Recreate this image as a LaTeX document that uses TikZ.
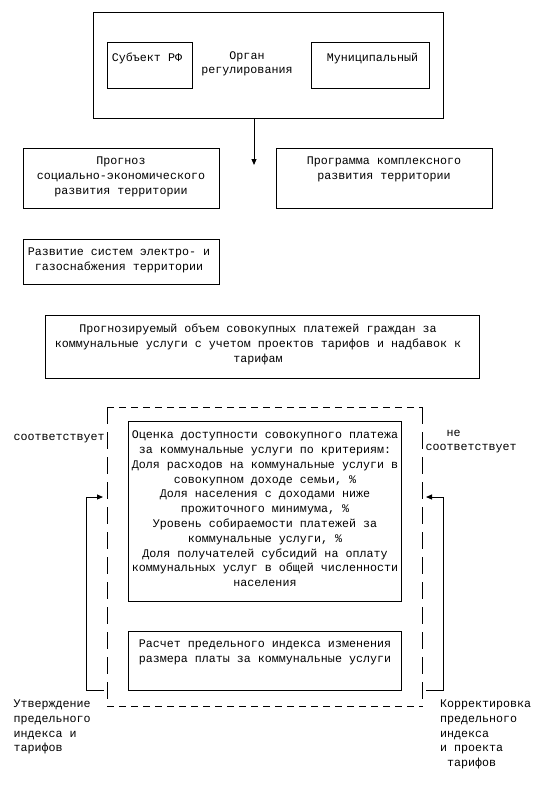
\documentclass[tikz,border=0pt]{standalone}
\usepackage{fontspec}
\newfontfamily\mono{Liberation Mono}
\usetikzlibrary{arrows.meta,fit}
\tikzset{
  box/.style={draw, line width=1pt, inner sep=0pt, fit={#1}},
  frame/.style={inner sep=0pt, fit={#1}},
  txt/.style={font=\mono\fontsize{11.67}{14.8}\selectfont, align=center, anchor=north, inner sep=0pt,
    execute at begin node=\rule{0pt}{10pt}},
  ltxt/.style={txt, align=left, anchor=north west},
  arr/.style={line width=1pt, -{Triangle[length=6pt,width=5pt]}},
  hdash/.style={line width=1pt, dash pattern=on 7pt off 5pt},
  vdash/.style={line width=1pt, dash pattern=on 17pt off 8pt},
}
\begin{document}
\begin{tikzpicture}[x=1pt,y=-1pt]
\fill[white] (0,0) rectangle (539,808);
\useasboundingbox (0,0) rectangle (539,808);

% top block
\node[box={(93,13) (443,118)}] (org) {};
\node[box={(107,43) (192,88)}] (subj) {};
\node[box={(311,43) (429,88)}] (muni) {};
\node[txt] (orgT) at (247,51) {Орган\\регулирования};
\node[txt] (subjT) at (147,51) {Субъект РФ};
\node[txt] (muniT) at (372.5,51) {Муниципальный};

\coordinate (tip) at (254,165);
\draw[arr] (org.south -| tip) -- (tip);

\node[box={(23,148) (219,208)}] (prog) {};
\node[txt] (progT) at (121,157) {Прогноз\\социально-экономического\\развития территории};
\node[box={(276,148) (492,208)}] (progr) {};
\node[txt] (progrT) at (384,157) {Программа комплексного\\развития территории};
\node[box={(23,239) (219,284)}] (razv) {};
\node[txt] (razvT) at (119,248) {Развитие систем электро- и\\газоснабжения территории};

\node[box={(45,315) (479,378)}] (fcst) {};
\node[txt] (fcstT) at (258,324) {Прогнозируемый объем совокупных платежей граждан за\\коммунальные услуги с учетом проектов тарифов и надбавок к\\тарифам};

% dashed frame
\node[frame={(107.5,407.5) (422.3,706)}] (dash) {};
\draw[hdash] (dash.north west) -- (dash.north east);
\draw[hdash] (dash.south west) -- (dash.south east);
\draw[vdash] (dash.north west) -- (dash.south west);
\draw[vdash] (dash.north east) -- (dash.south east);

\node[box={(128.3,421.5) (401.3,601.5)}] (ocen) {};
\node[txt] (ocenT) at (265,430.7) {Оценка доступности совокупного платежа\\за коммунальные услуги по критериям:\\Доля расходов на коммунальные услуги в\\совокупном доходе семьи, \%\\Доля населения с доходами ниже\\прожиточного минимума, \%\\Уровень собираемости платежей за\\коммунальные услуги, \%\\Доля получателей субсидий на оплату\\коммунальных услуг в общей численности\\населения};

\node[box={(128.3,631.7) (401.3,690)}] (rasch) {};
\node[txt] (raschT) at (265,639.7) {Расчет предельного индекса изменения\\размера платы за коммунальные услуги};

% labels
\node[ltxt] (sootv) at (13.5,430.7) {соответствует};
\node[ltxt] (nesootv) at (425.5,429.7) {\hspace*{21pt}не\\соответствует};
\node[ltxt] (utv) at (13.5,699.7) {Утверждение\\предельного\\индекса и\\тарифов};
\node[ltxt] (korr) at (440,699.7) {Корректировка\\предельного\\индекса\\и проекта\\\hspace*{7pt}тарифов};

% feedback arrows
\coordinate (lb) at (104,690);
\coordinate (lt) at (103,497);
\draw[arr] (lb) -- (86.7,690) |- (lt);
\coordinate (rb) at (426,690);
\coordinate (rt) at (426,497);
\draw[arr] (rb) -- (443.3,690) |- (rt);
\end{tikzpicture}
\end{document}
